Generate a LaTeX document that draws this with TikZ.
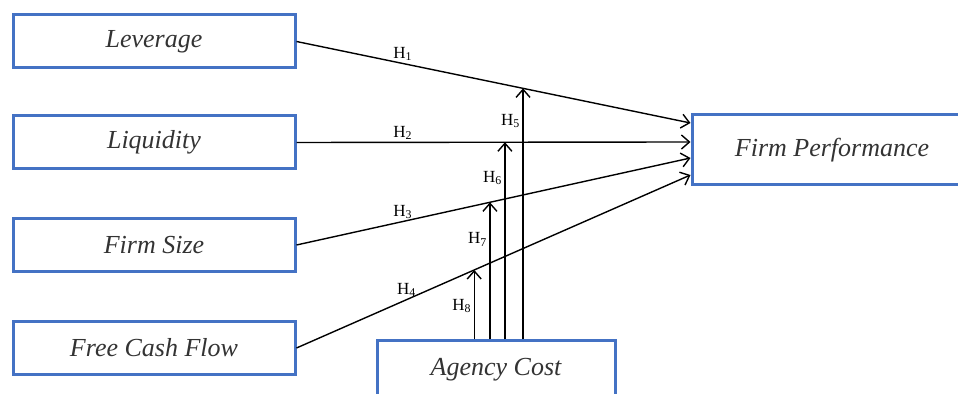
\documentclass[tikz,border=0pt]{standalone}
\usepackage{fontspec}
\setmainfont{Liberation Serif}
\usepackage{tikz}
\usepackage{xcolor}
\usetikzlibrary{arrows.meta}
\definecolor{boxblue}{RGB}{68,114,196}

\begin{document}
\begin{tikzpicture}[x=0.5pt, y=-0.5pt, >={Straight Barb[length=4pt,width=7pt]},
    var/.style={draw=boxblue, line width=1.5pt, minimum width=141pt, minimum height=26.5pt,
      text=black!80, font=\fontsize{13}{15}\selectfont\itshape},
    hyp/.style={font=\fontsize{8.5}{10}\selectfont, inner sep=1pt},
    link/.style={->, line width=0.7pt}]
    \useasboundingbox (0,0) rectangle (958,394);
    \clip (0,0) rectangle (958,394);
    \node [var] (leverage) at (154,41.5) {Leverage};
    \node [var] (liquidity) at (154,142.5) {Liquidity};
    \node [var] (size) at (154,245) {Firm Size};
    \node [var] (cashflow) at (154,348) {Free Cash Flow};
    \node [var, minimum width=140pt, minimum height=35pt] (performance) at (832,150) {Firm Performance};
    \node [var, minimum width=119pt, minimum height=29pt] (agency) at (496,370) {Agency Cost};

    \draw[link] (leverage.east) -- node[hyp, pos=0.27, above] {H\textsubscript{1}} coordinate[pos=0.575] (m1) ([yshift=13.5pt]performance.west);
    \draw[link] (liquidity.east) -- node[hyp, pos=0.27, above] {H\textsubscript{2}} coordinate[pos=0.529] (m2) ([yshift=4pt]performance.west);
    \draw[link] (size.east) -- node[hyp, pos=0.27, above] {H\textsubscript{3}} coordinate[pos=0.491] (m3) ([yshift=-4pt]performance.west);
    \draw[link] (cashflow.east) -- node[hyp, pos=0.28, above] {H\textsubscript{4}} coordinate[pos=0.451] (m4) ([yshift=-12.5pt]performance.west);

    \draw[link] (agency.north -| m1) -- node[hyp, pos=0.87, left] {H\textsubscript{5}} (m1);
    \draw[link] (agency.north -| m2) -- node[hyp, pos=0.82, left] {H\textsubscript{6}} (m2);
    \draw[link] (agency.north -| m3) -- node[hyp, pos=0.73, left] {H\textsubscript{7}} (m3);
    \draw[link] (agency.north -| m4) -- node[hyp, pos=0.48, left] {H\textsubscript{8}} (m4);
\end{tikzpicture}
\end{document}
